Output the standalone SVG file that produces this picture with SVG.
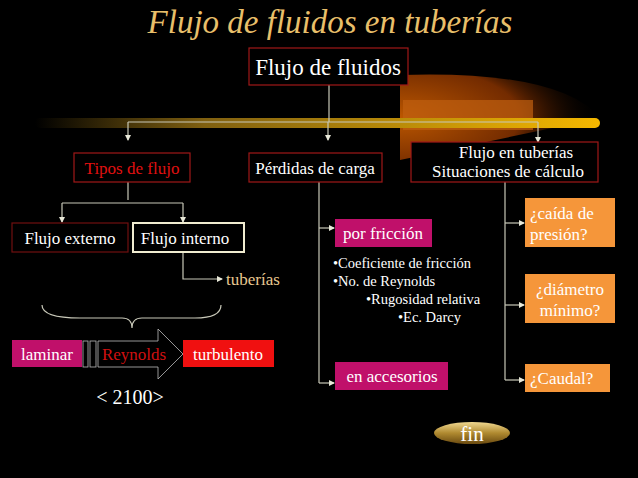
<svg xmlns="http://www.w3.org/2000/svg" width="638" height="478" viewBox="0 0 638 478" font-family="'Liberation Serif', 'Times New Roman', serif">
<defs>
<style>
text{font-family:'Liberation Serif','Times New Roman',serif}
.t{fill:#fff}
.c{stroke:#c8c8b8;stroke-width:1.2;fill:none}
.rb{fill:#000;stroke:#a01818;stroke-width:1.2}
.mg{fill:#c0106a}
.og{fill:#f5963a}
</style>
<marker id="a" markerWidth="6" markerHeight="6" refX="5" refY="3" orient="auto" markerUnits="userSpaceOnUse"><path d="M0,0L6,3L0,6z" fill="#e8e8d8"/></marker>
<linearGradient id="bar" x1="0" x2="1"><stop offset="0" stop-color="#000"/><stop offset="0.3" stop-color="#806010"/><stop offset="1" stop-color="#f5b800"/></linearGradient>
<radialGradient id="glow" cx="0" cy="0.5" r="1"><stop offset="0" stop-color="#d06000"/><stop offset="0.6" stop-color="#803000"/><stop offset="1" stop-color="#000" stop-opacity="0"/></radialGradient>
<linearGradient id="fin" x1="0" y1="0" x2="0" y2="1"><stop offset="0" stop-color="#f0d890"/><stop offset="0.5" stop-color="#b08a30"/><stop offset="1" stop-color="#6a4a10"/></linearGradient>
</defs>
<rect width="638" height="478" fill="#000"/>
<g id="decor">
<path d="M400,75 Q560,70 600,118 L400,160 Z" fill="url(#glow)" opacity="0.9"/>
<rect x="403" y="100" width="130" height="30" fill="#c06010" opacity="0.7"/>
<rect x="35" y="118" width="565" height="10" rx="5" fill="url(#bar)"/>
</g>
<text x="330" y="33" text-anchor="middle" font-style="italic" font-size="33" fill="#e8bf6a">Flujo de fluidos en tuberías</text>
<g id="connectors">
<path class="c" d="M329,85V122"/>
<path class="c" d="M128,122H538"/>
<path class="c" d="M128,122V140" marker-end="url(#a)"/>
<path class="c" d="M328,122V140" marker-end="url(#a)"/>
<path class="c" d="M538,122V142" marker-end="url(#a)"/>
<path class="c" d="M128,182V200"/>
<path class="c" d="M62,203H183"/>
<path class="c" d="M62,203V222" marker-end="url(#a)"/>
<path class="c" d="M183,203V222" marker-end="url(#a)"/>
<path class="c" d="M183,252V279H222" stroke="#c8a050" marker-end="url(#a)"/>
<path class="c" d="M319,182V383"/>
<path class="c" d="M319,228H334" marker-end="url(#a)"/>
<path class="c" d="M319,383H334" marker-end="url(#a)"/>
<path class="c" d="M505,182V380"/>
<path class="c" d="M505,223H524" marker-end="url(#a)"/>
<path class="c" d="M505,305H524" marker-end="url(#a)"/>
<path class="c" d="M505,380H524" marker-end="url(#a)"/>
<path class="c" d="M42,305Q42,318 80,318H122Q132,318 132,328Q132,318 142,318H195Q221,318 221,305"/>
</g>
<g id="n-flujo"><rect class="rb" x="249" y="48" width="159" height="37"/><text class="t" x="328" y="75" text-anchor="middle" font-size="23">Flujo de fluidos</text></g>
<g id="n-tipos"><rect class="rb" x="74" y="153" width="116" height="29"/><text x="132" y="174" text-anchor="middle" font-size="17" fill="#e01010">Tipos de flujo</text></g>
<g id="n-perdidas"><rect class="rb" x="249" y="153" width="133" height="29"/><text class="t" x="315" y="174" text-anchor="middle" font-size="17">Pérdidas de carga</text></g>
<g id="n-tuberias"><rect class="rb" x="411" y="142" width="187" height="40"/><text class="t" x="516" y="158" text-anchor="middle" font-size="17">Flujo en tuberías</text><text class="t" x="508" y="177" text-anchor="middle" font-size="17">Situaciones de cálculo</text></g>
<g id="n-externo"><rect x="12" y="223" width="116" height="29" fill="#000" stroke="#701010" stroke-width="1.2"/><text class="t" x="70" y="244" text-anchor="middle" font-size="17">Flujo externo</text></g>
<g id="n-interno"><rect x="133" y="223" width="111" height="29" fill="#000" stroke="#f0ecd0" stroke-width="2"/><text class="t" x="185" y="244" text-anchor="middle" font-size="17">Flujo interno</text></g>
<text x="226" y="285" font-size="17" fill="#e8c890">tuberías</text>
<g id="n-laminar"><rect x="12" y="340" width="70" height="27" fill="#c0106a"/><text class="t" x="47" y="360" text-anchor="middle" font-size="17">laminar</text></g>
<g id="n-reynolds">
<rect x="83" y="341" width="5" height="26" fill="none" stroke="#bbb" stroke-width="0.8"/>
<rect x="90" y="341" width="6" height="26" fill="none" stroke="#bbb" stroke-width="0.8"/>
<path d="M98,341H158V329L183,354L158,379V367H98Z" fill="#000" stroke="#bbb" stroke-width="0.8"/>
<text x="134" y="360" text-anchor="middle" font-size="17" fill="#d01010">Reynolds</text>
</g>
<g id="n-turbulento"><rect x="183" y="340" width="91" height="27" fill="#f01010"/><text class="t" x="228" y="360" text-anchor="middle" font-size="17">turbulento</text></g>
<text class="t" x="130" y="404" text-anchor="middle" font-size="20">&lt; 2100&gt;</text>
<g id="n-friccion"><rect class="mg" x="335" y="219" width="97" height="28"/><text class="t" x="383" y="239" text-anchor="middle" font-size="17">por fricción</text></g>
<g id="bullets" class="t" font-size="14.5">
<text x="333" y="268">•Coeficiente de fricción</text>
<text x="333" y="286">•No. de Reynolds</text>
<text x="366" y="304">•Rugosidad relativa</text>
<text x="398" y="322">•Ec. Darcy</text>
</g>
<g id="n-accesorios"><rect class="mg" x="335" y="362" width="113" height="28"/><text class="t" x="392" y="382" text-anchor="middle" font-size="17">en accesorios</text></g>
<g id="n-caida"><rect class="og" x="525" y="198" width="90" height="49"/><text class="t" x="530" y="219" font-size="17">¿caída de</text><text class="t" x="530" y="240" font-size="17">presión?</text></g>
<g id="n-diametro"><rect class="og" x="525" y="274" width="90" height="49"/><text class="t" x="570" y="295" text-anchor="middle" font-size="17">¿diámetro</text><text class="t" x="570" y="316" text-anchor="middle" font-size="17">mínimo?</text></g>
<g id="n-caudal"><rect class="og" x="525" y="364" width="85" height="28"/><text class="t" x="530" y="384" font-size="17">¿Caudal?</text></g>
<g id="n-fin"><ellipse cx="472" cy="433" rx="38" ry="11" fill="url(#fin)"/><text class="t" x="472" y="441" text-anchor="middle" font-size="21">fin</text></g>
</svg>
